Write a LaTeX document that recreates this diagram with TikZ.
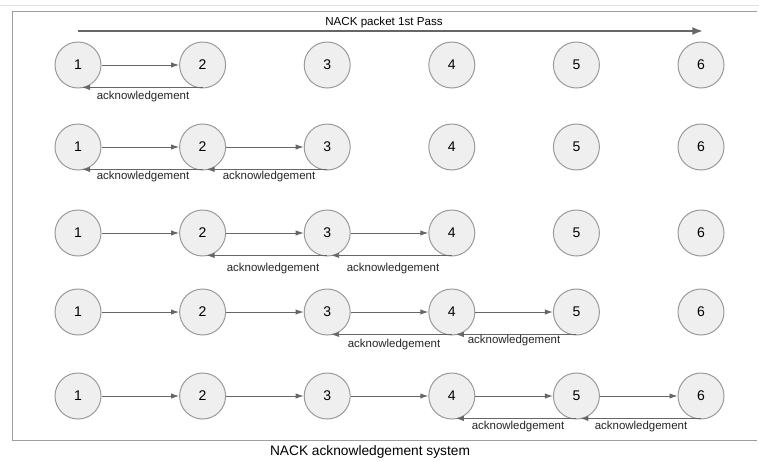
\documentclass[tikz,border=0pt]{standalone}
\usepackage{fontspec}
\setmainfont{Liberation Sans}
\usetikzlibrary{positioning}
\usetikzlibrary{arrows.meta}
\definecolor{nodefill}{HTML}{EFEFEF}
\definecolor{nodeline}{HTML}{9A9A9A}
\definecolor{arrowgray}{HTML}{666666}
\definecolor{framegray}{HTML}{9E9E9E}
\tikzset{
	station/.style={circle, draw=nodeline, fill=nodefill, line width=0.75pt, minimum size=34.5pt, inner sep=0pt, font=\fontsize{10.5}{12}\selectfont},
	send/.style={draw=arrowgray, line width=0.7pt, -{Latex[length=6pt,width=4pt]}},
	ack/.style={draw=arrowgray, line width=0.7pt, -{Latex[length=6pt,width=4pt]}},
	acklabel/.style={font=\fontsize{8.6}{10}\selectfont, text=black!85, inner sep=0pt},
}

\begin{document}
\begin{tikzpicture}[x=0.75pt, y=-0.75pt]
		\useasboundingbox (0,0) rectangle (759,461);
		% frame
		\draw[black!12, line width=0.6pt] (0,5) -- (759,5);
		\draw[framegray, line width=0.75pt] (757,11) -- (12,11) -- (12,440) -- (757,440);
		% first pass
		\node[font=\fontsize{8.7}{10}\selectfont, inner sep=0pt] (passtitle) at (384,22) {NACK packet 1st Pass};
		\coordinate (passstart) at (78,31);
		\coordinate (passend) at (703,31);
		\draw[arrowgray, line width=1.5pt, -{Latex[length=8pt,width=6pt]}] (passstart) -- (passend);
		% stations
		\foreach \r/\y in {1/65,2/147,3/233,4/312,5/396}
			\foreach \c in {1,...,6}
				\node[station] (r\r-\c) at ({78+124.6*(\c-1)},\y) {\c};
		% packets
		\foreach \r in {1,...,5}
			\foreach \c in {1,...,\r}{
				\pgfmathtruncatemacro\n{\c+1}
				\draw[send] (r\r-\c) -- (r\r-\n);
			}
		% acknowledgements
		\foreach \r/\c in {1/1,2/1,2/2,3/2,3/3,4/3,4/4,5/4,5/5}{
			\pgfmathtruncatemacro\n{\c+1}
			\draw[ack] ([yshift=0.8pt]r\r-\n.south) -- ([xshift=3pt,yshift=0.8pt]r\r-\c.south);
		}
		\foreach \x/\y [count=\i] in {143/97,143/177,269/177,273/269,393/269,394/345,514/341,518/427,641/427}
			\node[acklabel] (ack\i) at (\x,\y) {acknowledgement};
		% caption
		\node[font=\fontsize{10.3}{12}\selectfont, inner sep=0pt] (caption) at (370,452) {NACK acknowledgement system};
	\end{tikzpicture}
\end{document}
